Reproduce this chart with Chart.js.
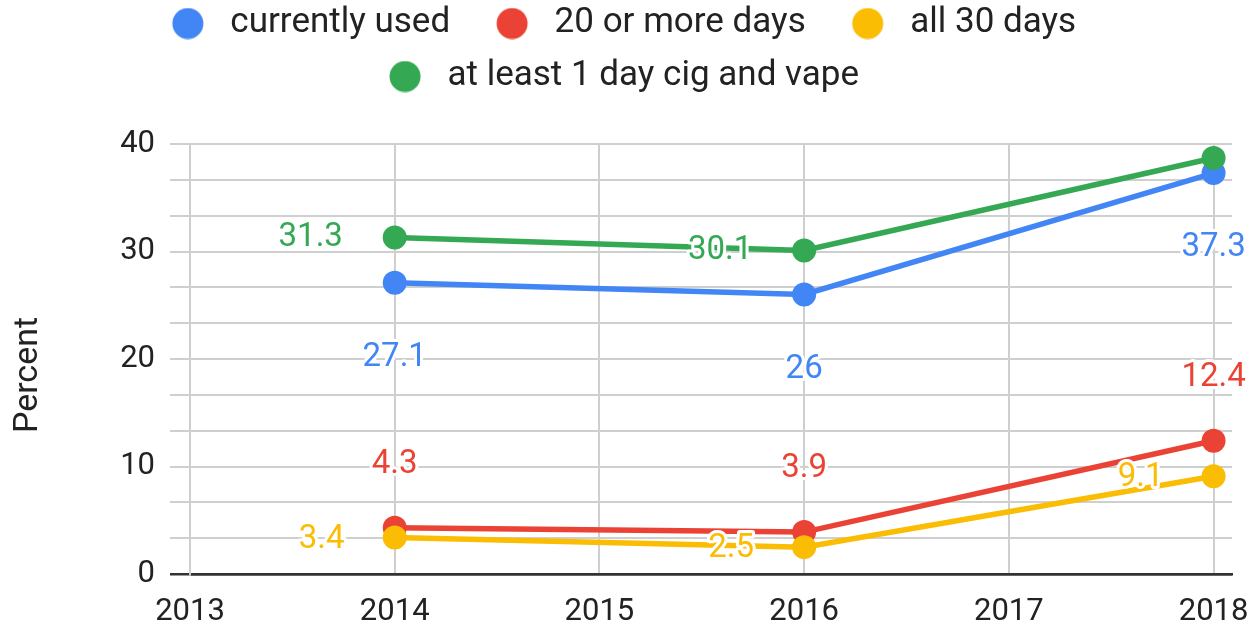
<!DOCTYPE html>
<html>
<head>
<meta charset="utf-8">
<script src="https://cdn.jsdelivr.net/npm/chart.js@4.4.0/dist/chart.umd.min.js"></script>
<style>
  html, body { margin: 0; padding: 0; background: #fff; }
  #wrap { width: 1254px; height: 628px; }
</style>
</head>
<body>
<div id="wrap"><canvas id="chart"></canvas></div>
<script>
// values
const years = [2014, 2016, 2018];
const seriesNames = ['currently used', '20 or more days', 'all 30 days', 'at least 1 day cig and vape'];
const currentlyUsed = [27.1, 26, 37.3];
const twentyOrMoreDays = [4.3, 3.9, 12.4];
const all30Days = [3.4, 2.5, 9.1];
const cigAndVape = [31.3, 30.1, 38.7];
const xTicks = [2013, 2014, 2015, 2016, 2017, 2018];
const yTicks = [0, 10, 20, 30, 40];
const yTitle = 'Percent';

const colors = ['#4285F4', '#EA4335', '#FBBC04', '#34A853'];
// where each series puts its value labels, relative to the point
const labelOffsets = [
  { dx: 0, dy: 75 },
  { dx: 0, dy: -63 },
  { dx: -73, dy: 2 },
  { dx: -84, dy: 0 },
];
const hiddenLabels = { 3: [2] }; // google hid this one (overlap)

Chart.defaults.font.family = 'Roboto';
Chart.defaults.color = '#222';

// legend dot with some blank room on the left so items spread out like the original
function makeDot(color) {
  const c = document.createElement('canvas');
  c.width = 69;
  c.height = 32;
  const g = c.getContext('2d');
  g.fillStyle = color;
  g.beginPath();
  g.arc(44, 16, 15.5, 0, Math.PI * 2);
  g.fill();
  return c;
}
const legendDots = colors.map(makeDot);

// gridlines every third of a major step
const yGrid = [];
yTicks.forEach((v, i) => {
  yGrid.push(v);
  if (i < yTicks.length - 1) {
    const step = yTicks[i + 1] - v;
    yGrid.push(v + step / 3, v + 2 * step / 3);
  }
});

const valueLabels = {
  id: 'valueLabels',
  afterDatasetsDraw(chart) {
    const ctx = chart.ctx;
    ctx.save();
    ctx.font = '33px Roboto';
    ctx.textAlign = 'center';
    ctx.textBaseline = 'middle';
    ctx.lineJoin = 'round';
    chart.data.datasets.forEach((ds, i) => {
      const meta = chart.getDatasetMeta(i);
      const off = labelOffsets[i];
      meta.data.forEach((pt, j) => {
        if (hiddenLabels[i] && hiddenLabels[i].includes(j)) return;
        const text = String(ds.data[j].y);
        const x = pt.x + off.dx;
        const y = pt.y + off.dy;
        ctx.lineWidth = 6;
        ctx.strokeStyle = '#fff';
        ctx.strokeText(text, x, y);
        ctx.fillStyle = colors[i];
        ctx.fillText(text, x, y);
      });
    });
    ctx.restore();
  }
};

// axis title sits a bit lower than chart.js would centre it
const axisTitle = {
  id: 'axisTitle',
  afterDraw(chart) {
    const ctx = chart.ctx;
    ctx.save();
    ctx.translate(28, 375);
    ctx.rotate(-Math.PI / 2);
    ctx.font = '34px Roboto';
    ctx.fillStyle = '#222';
    ctx.textAlign = 'center';
    ctx.textBaseline = 'middle';
    ctx.fillText(yTitle, 0, 0);
    ctx.restore();
  }
};

// two-row legend: more room below it, nudged a little left
const legendSpacing = {
  id: 'legendSpacing',
  beforeUpdate(chart) {
    if (!chart.legend || chart.legend._patched) return;
    const fit = chart.legend.fit;
    chart.legend.fit = function () {
      fit.call(this);
      this.height += 40;
    };
    chart.legend._patched = true;
  },
  afterLayout(chart) {
    chart.legend.left -= 6;
    chart.legend.right -= 6;
  }
};

const allSeries = [currentlyUsed, twentyOrMoreDays, all30Days, cigAndVape];
const datasets = allSeries.map((vals, i) => ({
  label: seriesNames[i],
  data: vals.map((v, j) => ({ x: years[j], y: v })),
  borderColor: colors[i],
  backgroundColor: colors[i],
  borderWidth: 5.5,
  pointRadius: 12,
  pointHoverRadius: 12,
  pointBorderWidth: 0,
  pointBackgroundColor: colors[i],
  order: allSeries.length - i, // later series sit on top
  tension: 0,
}));

new Chart(document.getElementById('chart'), {
  type: 'line',
  data: { datasets },
  options: {
    responsive: true,
    maintainAspectRatio: false,
    animation: false,
    layout: { padding: { top: -12, right: 22, left: 0, bottom: 0 } },
    plugins: {
      tooltip: { enabled: false },
      legend: {
        position: 'top',
        labels: {
          font: { size: 35 },
          color: '#222',
          usePointStyle: true,
          pointStyleWidth: 69,
          padding: 18,
          sort: (a, b) => a.datasetIndex - b.datasetIndex,
          generateLabels(chart) {
            const items = Chart.defaults.plugins.legend.labels.generateLabels(chart);
            return items.map(it => ({ ...it, pointStyle: legendDots[it.datasetIndex] }));
          }
        }
      }
    },
    scales: {
      x: {
        type: 'linear',
        min: 2013,
        max: 2018.09,
        afterBuildTicks(scale) {
          scale.ticks = xTicks.map(v => ({ value: v }));
        },
        afterFit(scale) {
          scale.height = 54;
          scale.paddingLeft = 0;
          scale.paddingRight = 0;
        },
        ticks: {
          font: { size: 31 },
          color: '#222',
          padding: 19.5,
          maxRotation: 0,
          autoSkip: false,
          callback: v => String(v)
        },
        grid: { color: '#cfcfcf', lineWidth: 2, drawTicks: false },
        border: { display: true, color: '#333', width: 2.5 }
      },
      y: {
        min: 0,
        max: 40,
        afterBuildTicks(scale) {
          scale.ticks = yGrid.map(v => ({ value: v }));
        },
        afterFit(scale) {
          scale.width = 190;
        },
        title: { display: false },
        ticks: {
          font: { size: 31 },
          color: '#222',
          padding: 15,
          autoSkip: false,
          callback: v => (yTicks.includes(v) ? String(v) : '')
        },
        grid: {
          color: c => (c.tick && c.tick.value === 0 ? '#333' : '#cfcfcf'),
          lineWidth: c => (c.tick && c.tick.value === 0 ? 2.5 : 2),
          tickLength: 20
        },
        border: { display: true, color: '#cfcfcf', width: 2 }
      }
    }
  },
  plugins: [valueLabels, axisTitle, legendSpacing]
});
</script>
</body>
</html>
